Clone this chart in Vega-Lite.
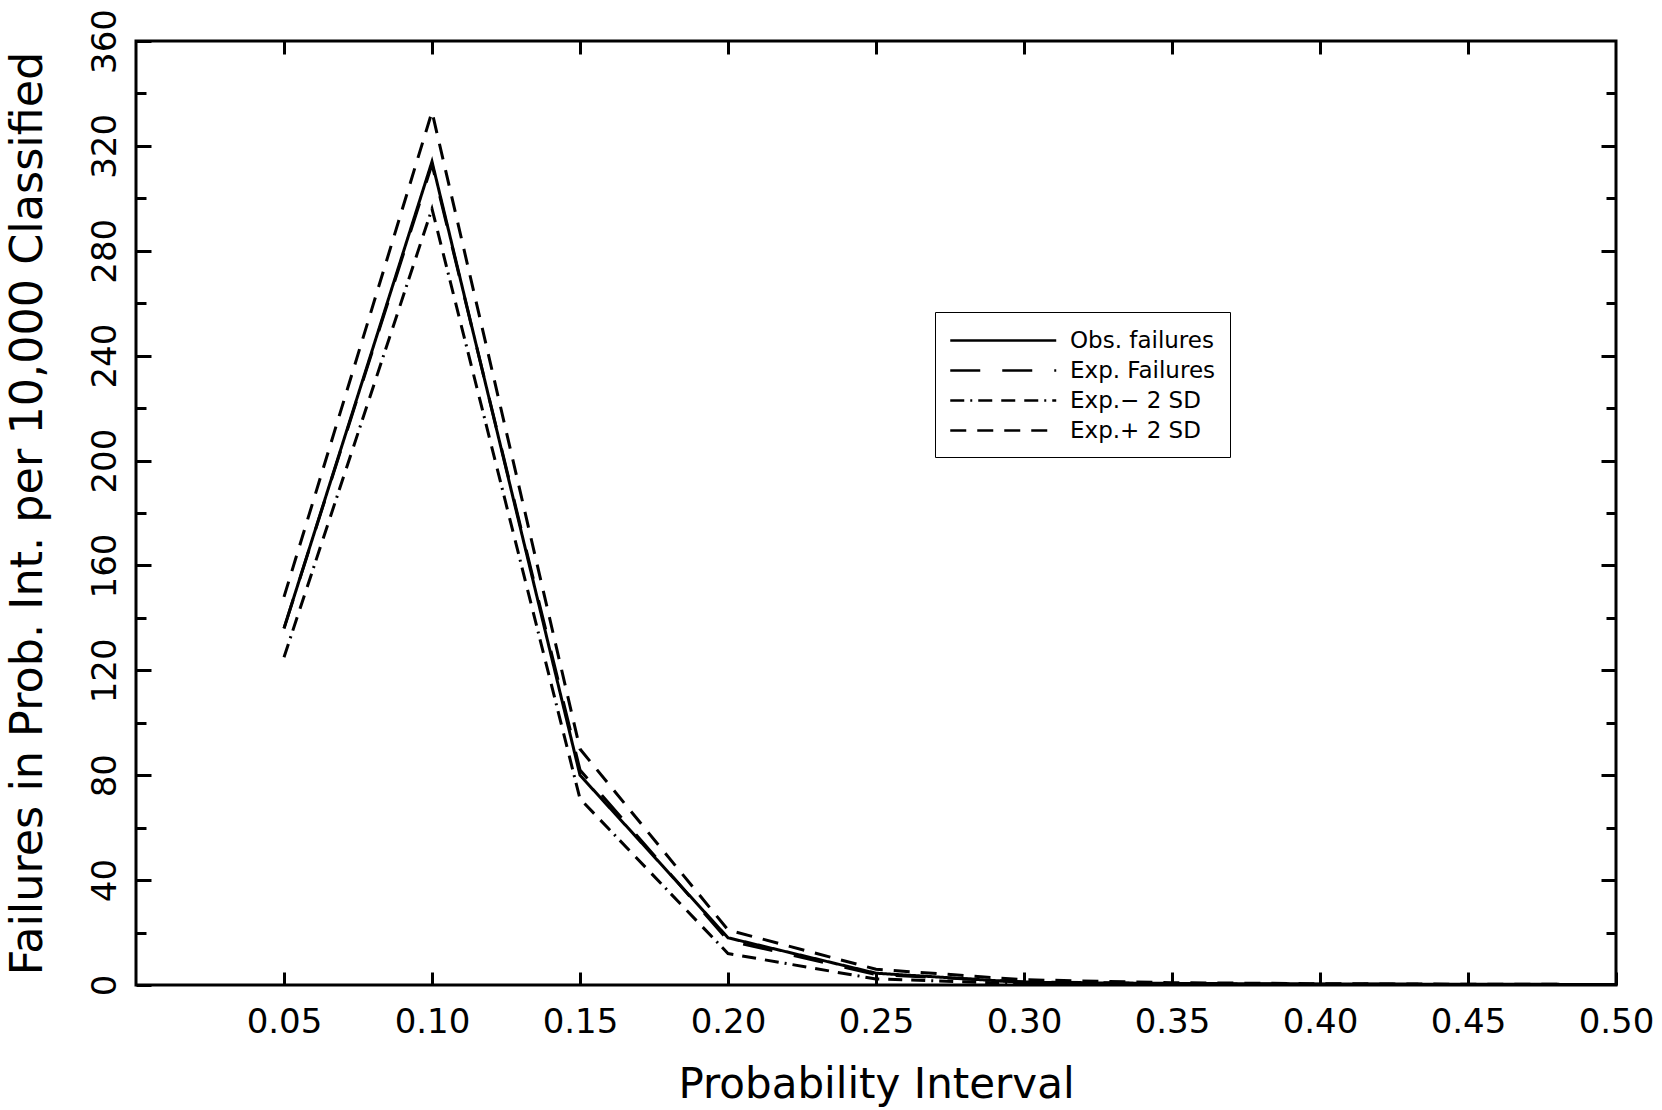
{
  "$schema": "https://vega.github.io/schema/vega-lite/v6.json",
  "width": 1480,
  "height": 944,
  "autosize": {"type": "none"},
  "padding": {"left": 136, "top": 41, "right": 46, "bottom": 125},
  "background": "white",
  "config": {
    "view": {"stroke": "black", "strokeWidth": 3},
    "font": "DejaVu Sans",
    "axis": {
      "domain": false,
      "grid": false,
      "tickColor": "black",
      "tickWidth": 3,
      "labelColor": "black",
      "titleColor": "black",
      "labelFont": "DejaVu Sans",
      "titleFont": "DejaVu Sans",
      "titleFontWeight": "normal"
    }
  },
  "datasets": {
    "d": [
      {"series": "Obs. failures", "p": 0.05, "v": 136},
      {"series": "Obs. failures", "p": 0.10, "v": 314},
      {"series": "Obs. failures", "p": 0.15, "v": 80},
      {"series": "Obs. failures", "p": 0.20, "v": 18},
      {"series": "Obs. failures", "p": 0.25, "v": 4.5},
      {"series": "Obs. failures", "p": 0.30, "v": 1},
      {"series": "Obs. failures", "p": 0.35, "v": 0.6},
      {"series": "Obs. failures", "p": 0.40, "v": 0.4},
      {"series": "Obs. failures", "p": 0.45, "v": 0.3},
      {"series": "Obs. failures", "p": 0.50, "v": 0.2},
      {"series": "Exp. Failures", "p": 0.05, "v": 136},
      {"series": "Exp. Failures", "p": 0.10, "v": 313},
      {"series": "Exp. Failures", "p": 0.15, "v": 82},
      {"series": "Exp. Failures", "p": 0.20, "v": 17},
      {"series": "Exp. Failures", "p": 0.25, "v": 4},
      {"series": "Exp. Failures", "p": 0.30, "v": 1.2},
      {"series": "Exp. Failures", "p": 0.35, "v": 0.5},
      {"series": "Exp. Failures", "p": 0.40, "v": 0.3},
      {"series": "Exp. Failures", "p": 0.45, "v": 0.2},
      {"series": "Exp. Failures", "p": 0.50, "v": 0.1},
      {"series": "Exp.− 2 SD", "p": 0.05, "v": 125},
      {"series": "Exp.− 2 SD", "p": 0.10, "v": 296},
      {"series": "Exp.− 2 SD", "p": 0.15, "v": 71},
      {"series": "Exp.− 2 SD", "p": 0.20, "v": 12},
      {"series": "Exp.− 2 SD", "p": 0.25, "v": 2.3},
      {"series": "Exp.− 2 SD", "p": 0.30, "v": 0.5},
      {"series": "Exp.− 2 SD", "p": 0.35, "v": 0.2},
      {"series": "Exp.− 2 SD", "p": 0.40, "v": 0.1},
      {"series": "Exp.− 2 SD", "p": 0.45, "v": 0.05},
      {"series": "Exp.− 2 SD", "p": 0.50, "v": 0},
      {"series": "Exp.+ 2 SD", "p": 0.05, "v": 148},
      {"series": "Exp.+ 2 SD", "p": 0.10, "v": 333},
      {"series": "Exp.+ 2 SD", "p": 0.15, "v": 90},
      {"series": "Exp.+ 2 SD", "p": 0.20, "v": 21},
      {"series": "Exp.+ 2 SD", "p": 0.25, "v": 6},
      {"series": "Exp.+ 2 SD", "p": 0.30, "v": 2},
      {"series": "Exp.+ 2 SD", "p": 0.35, "v": 0.9},
      {"series": "Exp.+ 2 SD", "p": 0.40, "v": 0.5},
      {"series": "Exp.+ 2 SD", "p": 0.45, "v": 0.3},
      {"series": "Exp.+ 2 SD", "p": 0.50, "v": 0.2}
    ]
  },
  "data": {"name": "d"},
  "resolve": {"axis": {"x": "independent", "y": "independent"}},
  "layer": [
    {
      "mark": {"type": "line", "color": "black", "strokeWidth": 3, "clip": true},
      "encoding": {
        "x": {
          "field": "p", "type": "quantitative",
          "scale": {"domain": [0, 0.5], "nice": false, "zero": false},
          "axis": {
            "orient": "bottom",
            "values": [0.05, 0.1, 0.15, 0.2, 0.25, 0.3, 0.35, 0.4, 0.45, 0.5],
            "format": ".2f",
            "tickSize": -13,
            "labelFontSize": 34,
            "labelPadding": 33,
            "labelFlush": false,
            "title": "Probability Interval",
            "titleFontSize": 42,
            "titlePadding": 25
          }
        },
        "y": {
          "field": "v", "type": "quantitative",
          "scale": {"domain": [0, 360], "nice": false},
          "axis": {
            "orient": "left",
            "values": [0, 40, 80, 120, 160, 200, 240, 280, 320, 360],
            "tickSize": -15,
            "labelAngle": 270,
            "labelAlign": "center",
            "labelBaseline": "bottom",
            "labelFontSize": 34,
            "labelPadding": 29,
            "labelFlush": false,
            "labelOverlap": false,
            "title": "Failures in Prob. Int. per 10,000 Classified",
            "titleFontSize": 44.5,
            "titlePadding": 38
          }
        },
        "strokeDash": {
          "field": "series", "type": "nominal",
          "scale": {
            "domain": ["Obs. failures", "Exp. Failures", "Exp.− 2 SD", "Exp.+ 2 SD"],
            "range": [[1, 0], [30, 22], [14, 6, 2, 6, 14, 9, 14, 9], [16, 11]]
          },
          "legend": {
            "title": null,
            "orient": "none",
            "legendX": 799,
            "legendY": 271,
            "padding": 14,
            "strokeColor": "black",
            "fillColor": "white",
            "symbolType": "M-1,0H7",
            "symbolSize": 702,
            "symbolStrokeWidth": 2.5,
            "symbolStrokeColor": "black",
            "labelFontSize": 23,
            "labelFont": "DejaVu Sans",
            "labelColor": "black",
            "labelOffset": 92,
            "rowPadding": 3
          }
        }
      }
    },
    {
      "mark": {"type": "line", "opacity": 0},
      "encoding": {
        "detail": {"field": "series"},
        "x": {
          "field": "p", "type": "quantitative",
          "scale": {"domain": [0, 0.5], "nice": false, "zero": false},
          "axis": {
            "orient": "top",
            "values": [0.05, 0.1, 0.15, 0.2, 0.25, 0.3, 0.35, 0.4, 0.45],
            "tickSize": -13,
            "labels": false,
            "title": null
          }
        },
        "y": {
          "field": "v", "type": "quantitative",
          "scale": {"domain": [0, 360], "nice": false},
          "axis": {
            "orient": "left",
            "values": [20, 60, 100, 140, 180, 220, 260, 300, 340],
            "tickSize": -10,
            "labels": false,
            "title": null
          }
        }
      }
    },
    {
      "mark": {"type": "line", "opacity": 0},
      "encoding": {
        "detail": {"field": "series"},
        "x": {"field": "p", "type": "quantitative", "scale": {"domain": [0, 0.5], "nice": false, "zero": false}, "axis": null},
        "y": {
          "field": "v", "type": "quantitative",
          "scale": {"domain": [0, 360], "nice": false},
          "axis": {
            "orient": "right",
            "values": [40, 80, 120, 160, 200, 240, 280, 320],
            "tickSize": -15,
            "labels": false,
            "title": null
          }
        }
      }
    },
    {
      "mark": {"type": "line", "opacity": 0},
      "encoding": {
        "detail": {"field": "series"},
        "x": {"field": "p", "type": "quantitative", "scale": {"domain": [0, 0.5], "nice": false, "zero": false}, "axis": null},
        "y": {
          "field": "v", "type": "quantitative",
          "scale": {"domain": [0, 360], "nice": false},
          "axis": {
            "orient": "right",
            "values": [20, 60, 100, 140, 180, 220, 260, 300, 340],
            "tickSize": -10,
            "labels": false,
            "title": null
          }
        }
      }
    }
  ]
}
